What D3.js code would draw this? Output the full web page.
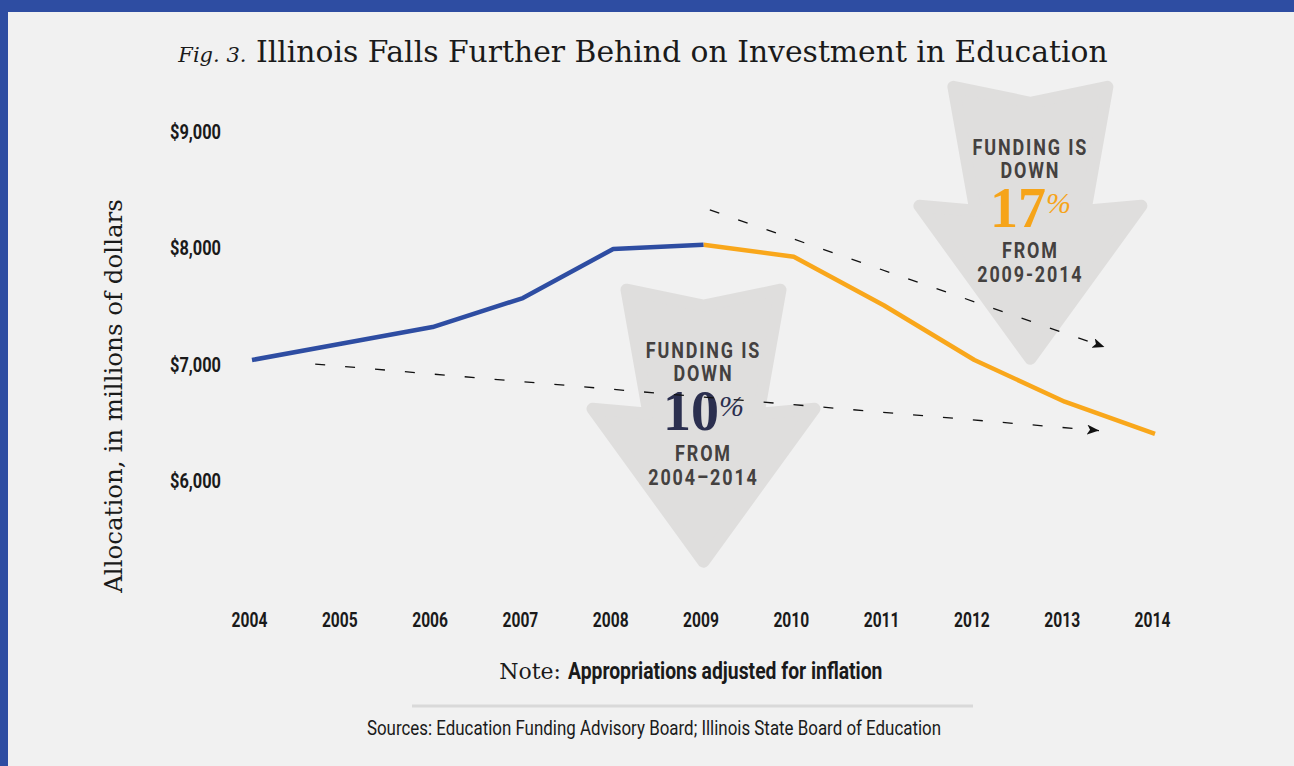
<!DOCTYPE html>
<html>
<head>
<meta charset="utf-8">
<script src="https://cdn.jsdelivr.net/npm/d3@7"></script>
<style>
  html, body { margin: 0; padding: 0; background: #f1f1f1; }
  svg { display: block; }
  .cond { font-family: "Roboto", "Liberation Sans", sans-serif; }
  .serif { font-family: "DejaVu Serif", "Liberation Serif", serif; }
  .serif2 { font-family: "Liberation Serif", serif; }
</style>
</head>
<body>
<svg id="chart" width="1294" height="766"></svg>
<script>
// ---- data ----
const years = [2004, 2005, 2006, 2007, 2008, 2009, 2010, 2011, 2012, 2013, 2014];
const allocation = [7030, 7172, 7313, 7562, 7983, 8020, 7917, 7498, 7030, 6672, 6395];
const splitYear = 2009;
const yTicks = [6000, 7000, 8000, 9000];
const yTickLabels = ["$6,000", "$7,000", "$8,000", "$9,000"];
const trendLines = [
  { from: [2004.7, 6995], to: [2013.38, 6424] },
  { from: [2009.07, 8318], to: [2013.44, 7142] }
];
const callouts = [
  { year: 2009.0, top: 7676, lines: ["FUNDING IS", "DOWN"], pct: "10", tail: ["FROM", "2004\u20132014"], color: "#2b2f4f" },
  { year: 2012.62, top: 9418, lines: ["FUNDING IS", "DOWN"], pct: "17", tail: ["FROM", "2009-2014"], color: "#f6a419" }
];
const titleItalic = "Fig. 3.";
const titleMain = " Illinois Falls Further Behind on Investment in Education";
const yAxisTitle = "Allocation, in millions of dollars";
const noteLead = "Note:";
const noteText = "Appropriations adjusted for inflation";
const sourceText = "Sources: Education Funding Advisory Board; Illinois State Board of Education";

// ---- setup ----
const W = 1294, H = 766;
const svg = d3.select("#chart");
const BLUE = "#2e4da2", ORANGE = "#f9a71b";
const K = 0.78; // horizontal condensing factor for the condensed sans

function condense(sel, k) {
  sel.each(function () {
    const len = this.getComputedTextLength();
    d3.select(this).attr("textLength", len * k).attr("lengthAdjust", "spacingAndGlyphs");
  });
}

svg.append("rect").attr("width", W).attr("height", H).attr("fill", "#f1f1f1");
svg.append("rect").attr("x", 0).attr("y", 0).attr("width", W).attr("height", 12).attr("fill", BLUE);
svg.append("rect").attr("x", 0).attr("y", 0).attr("width", 8).attr("height", H).attr("fill", BLUE);

const x = d3.scaleLinear().domain([2004, 2014]).range([252, 1155]);
const y = d3.scaleLinear().domain([6000, 9000]).range([480, 130.5]);

// title
const t = svg.append("text").attr("class", "serif").attr("x", 643).attr("y", 62)
  .attr("text-anchor", "middle").attr("fill", "#1a1a1a");
t.append("tspan").attr("font-style", "italic").attr("font-size", 21).text(titleItalic);
t.append("tspan").attr("font-size", 29.8).text(titleMain);

// y axis title
svg.append("text").attr("class", "serif")
  .attr("transform", "translate(122,396) rotate(-90)")
  .attr("text-anchor", "middle").attr("font-size", 24.5).attr("fill", "#1a1a1a")
  .text(yAxisTitle);

// y axis
const yAxis = d3.axisLeft(y).tickValues(yTicks)
  .tickFormat((d, i) => yTickLabels[i]).tickSize(0).tickPadding(0);
const gy = svg.append("g").attr("transform", "translate(221,0)").call(yAxis);
gy.select(".domain").remove();
gy.selectAll("text").attr("class", "cond").attr("font-size", 21).attr("font-weight", "bold")
  .attr("fill", "#1a1a1a").attr("dy", "0.36em").call(condense, K);

// x axis
const xAxis = d3.axisBottom(x).tickValues(years).tickFormat(d3.format("d")).tickSize(0).tickPadding(0);
const gx = svg.append("g").attr("transform", "translate(-3,612)").call(xAxis);
gx.select(".domain").remove();
gx.selectAll("text").attr("class", "cond").attr("font-size", 20).attr("font-weight", "bold")
  .attr("fill", "#1a1a1a").attr("dy", "0.75em").call(condense, K);

// callout arrows (shape offsets in px relative to centre/top)
const arrowShape = [[-77, 5], [0, 21], [77, 5], [55, 129], [111, 124], [0, 277], [-111, 124], [-55, 129]];
const lineGen = d3.line();
callouts.forEach(c => {
  const cx = x(c.year), ty = y(c.top);
  const g = svg.append("g").attr("transform", `translate(${cx},${ty})`);
  g.append("path").attr("d", lineGen(arrowShape) + "Z")
    .attr("fill", "#dfdedd").attr("stroke", "#dfdedd")
    .attr("stroke-width", 12).attr("stroke-linejoin", "round");
  const txt = (s, yy) => g.append("text").attr("class", "cond").attr("x", 0).attr("y", yy)
    .attr("text-anchor", "middle").attr("font-size", 22).attr("font-weight", "bold")
    .attr("letter-spacing", 2.3).attr("fill", "#444140").text(s).call(condense, 0.815);
  txt(c.lines[0], 73);
  txt(c.lines[1], 96);
  const p = g.append("text").attr("class", "serif2").attr("x", 0).attr("y", 145)
    .attr("text-anchor", "middle").attr("fill", c.color);
  p.append("tspan").attr("font-size", 56).attr("font-weight", "bold").text(c.pct);
  p.append("tspan").attr("font-size", 30).attr("font-style", "italic").attr("dy", -14).text("%");
  txt(c.tail[0], 176);
  txt(c.tail[1], 200);
});

// dashed trend arrows
const defs = svg.append("defs");
defs.append("marker").attr("id", "ah").attr("viewBox", "0 0 12 10").attr("refX", 12).attr("refY", 5)
  .attr("markerWidth", 12).attr("markerHeight", 10).attr("markerUnits", "userSpaceOnUse")
  .attr("orient", "auto")
  .append("path").attr("d", "M0,0 L12,5 L0,10 L3,5 Z").attr("fill", "#111");
trendLines.forEach(tl => {
  svg.append("line")
    .attr("x1", x(tl.from[0])).attr("y1", y(tl.from[1]))
    .attr("x2", x(tl.to[0])).attr("y2", y(tl.to[1]))
    .attr("stroke", "#111").attr("stroke-width", 1.3)
    .attr("stroke-dasharray", "10,20").attr("marker-end", "url(#ah)");
});

// main line
const pts = years.map((yr, i) => ({ yr, v: allocation[i] }));
const line = d3.line().x(d => x(d.yr)).y(d => y(d.v));
svg.append("path").datum(pts.filter(d => d.yr >= splitYear)).attr("d", line)
  .attr("fill", "none").attr("stroke", ORANGE).attr("stroke-width", 4.5).attr("stroke-linejoin", "round");
svg.append("path").datum(pts.filter(d => d.yr <= splitYear)).attr("d", line)
  .attr("fill", "none").attr("stroke", BLUE).attr("stroke-width", 4.5).attr("stroke-linejoin", "round");

// note
svg.append("text").attr("class", "serif").attr("x", 561).attr("y", 679).attr("text-anchor", "end")
  .attr("font-size", 22).attr("fill", "#1a1a1a").text(noteLead);
svg.append("text").attr("class", "cond").attr("x", 568).attr("y", 679).attr("text-anchor", "start")
  .attr("font-size", 23).attr("font-weight", "bold").attr("fill", "#1a1a1a").text(noteText).call(condense, 0.84);

svg.append("line").attr("x1", 412).attr("x2", 973).attr("y1", 706).attr("y2", 706)
  .attr("stroke", "#d9d9d9").attr("stroke-width", 3);

svg.append("text").attr("class", "cond").attr("x", 654).attr("y", 735).attr("text-anchor", "middle")
  .attr("font-size", 20).attr("fill", "#1a1a1a").text(sourceText).call(condense, 0.845);
</script>
</body>
</html>
